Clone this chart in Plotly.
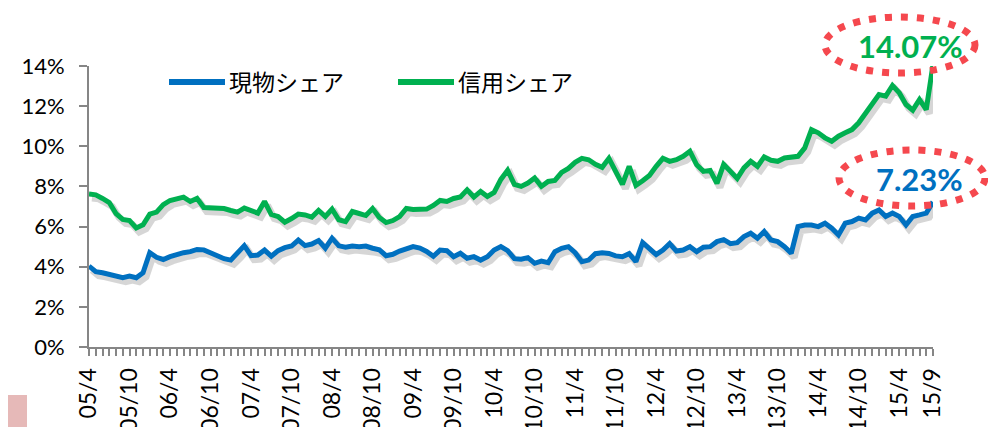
import plotly.graph_objects as go

# ---------------- data ----------------
series_names = ["現物シェア", "信用シェア"]

cash_share = [
    4.03, 3.75, 3.70, 3.62, 3.55, 3.45, 3.53, 3.45, 3.70, 4.70,
    4.47, 4.36, 4.50, 4.62, 4.70, 4.75, 4.86, 4.84, 4.70, 4.55,
    4.40, 4.33, 4.65, 5.05, 4.55, 4.58, 4.83, 4.52, 4.80, 4.95,
    5.03, 5.33, 5.05, 5.13, 5.30, 4.92, 5.42, 5.04, 4.97, 5.03,
    5.00, 5.03, 4.92, 4.84, 4.55, 4.62, 4.78, 4.88, 5.00, 4.93,
    4.76, 4.52, 4.83, 4.80, 4.50, 4.67, 4.42, 4.50, 4.33, 4.50,
    4.83, 5.00, 4.80, 4.40, 4.37, 4.45, 4.17, 4.28, 4.20, 4.75,
    4.92, 5.00, 4.70, 4.25, 4.33, 4.65, 4.70, 4.66, 4.54, 4.50,
    4.65, 4.25, 5.20, 4.90, 4.60, 4.83, 5.15, 4.78, 4.83, 5.00,
    4.75, 4.97, 5.00, 5.25, 5.35, 5.15, 5.20, 5.50, 5.67, 5.42,
    5.75, 5.33, 5.25, 5.00, 4.67, 6.00, 6.08, 6.08, 6.00, 6.17,
    5.92, 5.58, 6.17, 6.25, 6.42, 6.33, 6.67, 6.83, 6.50, 6.67,
    6.50, 6.08, 6.50, 6.58, 6.67, 7.23,
]

credit_share = [
    7.62, 7.58, 7.40, 7.20, 6.65, 6.36, 6.30, 5.93, 6.09, 6.62,
    6.72, 7.09, 7.30, 7.37, 7.47, 7.25, 7.40, 6.95, 6.93, 6.97,
    6.90, 6.80, 6.72, 6.92, 6.80, 6.67, 7.25, 6.60, 6.50, 6.22,
    6.40, 6.62, 6.58, 6.47, 6.80, 6.50, 6.87, 6.34, 6.25, 6.75,
    6.65, 6.55, 6.90, 6.45, 6.20, 6.30, 6.50, 6.90, 6.85, 6.85,
    6.87, 7.05, 7.30, 7.25, 7.40, 7.48, 7.83, 7.47, 7.75, 7.50,
    7.70, 8.35, 8.80, 8.10, 8.00, 8.17, 8.42, 8.00, 8.25, 8.30,
    8.70, 8.90, 9.20, 9.40, 9.33, 9.10, 8.95, 9.40, 8.70, 8.10,
    9.00, 8.05, 8.28, 8.55, 9.00, 9.40, 9.25, 9.33, 9.50, 9.75,
    9.08, 8.75, 8.80, 8.15, 9.10, 8.75, 8.40, 8.92, 9.25, 9.00,
    9.47, 9.30, 9.25, 9.42, 9.47, 9.50, 9.92, 10.83, 10.67, 10.42,
    10.25, 10.50, 10.67, 10.83, 11.17, 11.67, 12.17, 12.58, 12.50, 13.03,
    12.67, 12.08, 11.80, 12.33, 11.83, 14.07,
]

# monthly categories 2005/4 .. 2015/9
months = []
for yy in range(2005, 2016):
    for mm in range(1, 13):
        if (yy, mm) < (2005, 4) or (yy, mm) > (2015, 9):
            continue
        months.append(f"{yy % 100:02d}/{mm}")

tick_labels = ["05/4", "05/10", "06/4", "06/10", "07/4", "07/10", "08/4", "08/10",
               "09/4", "09/10", "10/4", "10/10", "11/4", "11/10", "12/4", "12/10",
               "13/4", "13/10", "14/4", "14/10", "15/4", "15/9"]

y_ticks = [0, 2, 4, 6, 8, 10, 12, 14]

# ---------------- layout helpers ----------------
W, H = 996, 427
OFF = 8  # the page body adds an 8px margin around the figure
L, T = 89 - OFF, 66 - OFF
PW, PH = 844, 281
R, B = W - L - PW, H - T - PH
FONT = "Lato, 'Noto Sans CJK JP', sans-serif"
JFONT = "'Noto Sans CJK JP', sans-serif"
BLUE = "#0070C0"
GREEN = "#00B050"
AXIS = "#868686"
TXT = "#000000"
RED_DOT = "rgb(245,72,78)"


def px(x):
    """screen pixel x -> paper fraction"""
    return (x - OFF - L) / PW


def py(y):
    """screen pixel y -> paper fraction"""
    return 1 - (y - OFF - T) / PH


idx = list(range(len(months)))
tickvals = [months.index(t) for t in tick_labels]
n_last = len(months) - 1
x_range = [0, n_last]
y_range = [y_ticks[0], y_ticks[-1]]

# shadow offsets (pixels)
sdx, sdy = 3, 4
ppx = PW / (x_range[1] - x_range[0])
ppy = PH / (y_range[1] - y_range[0])

fig = go.Figure()

series = [(series_names[0], cash_share, BLUE), (series_names[1], credit_share, GREEN)]

# shadows on hidden first axes
for name, vals, col in series:
    fig.add_trace(go.Scatter(
        x=idx, y=vals, xaxis="x", yaxis="y", mode="lines",
        line=dict(color="rgba(0,0,0,0.16)", width=7),
        hoverinfo="skip", showlegend=False,
    ))

# main lines
for name, vals, col in series:
    fig.add_trace(go.Scatter(
        x=idx, y=vals, xaxis="x2", yaxis="y2", mode="lines", name=name,
        line=dict(color=col, width=5), customdata=months,
        hovertemplate="%{customdata}: %{y:.2f}%<extra>" + name + "</extra>",
        showlegend=False,
    ))

shapes = []
annotations = []

# custom legend
legend_items = [(series_names[0], BLUE, 169, 225), (series_names[1], GREEN, 398, 454)]
for name, col, x0, x1 in legend_items:
    shapes.append(dict(type="line", xref="paper", yref="paper",
                       x0=px(x0), x1=px(x1), y0=py(82), y1=py(82),
                       line=dict(color=col, width=6)))
    annotations.append(dict(xref="paper", yref="paper", x=px(x1 + 2), y=py(81),
                            xanchor="left", yanchor="middle", text=name, showarrow=False,
                            font=dict(family=JFONT, size=23, color=TXT)))

# highlighted last values with dotted ellipses
annotations.append(dict(xref="paper", yref="paper", x=px(910), y=py(46),
                        xanchor="center", yanchor="middle",
                        text=f"{credit_share[-1]:.2f}%", showarrow=False,
                        font=dict(family=FONT, size=31, color=GREEN, weight="bold")))
annotations.append(dict(xref="paper", yref="paper", x=px(919), y=py(179),
                        xanchor="center", yanchor="middle",
                        text=f"{cash_share[-1]:.2f}%", showarrow=False,
                        font=dict(family=FONT, size=31, color=BLUE, weight="bold")))
for (x0, x1, y0, y1) in [(825, 975, 17, 73), (839, 985, 150, 206)]:
    shapes.append(dict(type="circle", xref="paper", yref="paper",
                       x0=px(x0), x1=px(x1), y0=py(y1), y1=py(y0),
                       line=dict(color=RED_DOT, width=7, dash="7px,9px")))

# pink square at bottom-left corner
shapes.append(dict(type="rect", xref="paper", yref="paper",
                   x0=px(0), x1=px(27), y0=py(427), y1=py(395),
                   fillcolor="#E6B9B8", line=dict(width=0), layer="below"))

fig.update_layout(
    width=W, height=H,
    margin=dict(l=L, r=R, t=T, b=B, pad=0, autoexpand=False),
    paper_bgcolor="white", plot_bgcolor="rgba(0,0,0,0)",
    font=dict(family=FONT, size=21, color=TXT),
    showlegend=False,
    shapes=shapes, annotations=annotations,
    xaxis=dict(domain=[0, 1], anchor="y", visible=False, fixedrange=True,
               automargin=False,
               range=[x_range[0] - sdx / ppx, x_range[1] - sdx / ppx]),
    yaxis=dict(domain=[0, 1], anchor="x", visible=False, fixedrange=True,
               automargin=False,
               range=[y_range[0] + sdy / ppy, y_range[1] + sdy / ppy]),
    xaxis2=dict(domain=[0, 1], anchor="y2", range=x_range, automargin=False,
                showline=True, linecolor=AXIS, linewidth=2,
                showgrid=False, zeroline=False,
                tickmode="array", tickvals=tickvals, ticktext=tick_labels,
                ticks="outside", ticklen=7, tickwidth=1.5, tickcolor=AXIS,
                tickangle=-90, ticklabelstandoff=3,
                tickfont=dict(family=FONT, size=23, color=TXT),
                minor=dict(dtick=1, tick0=0, ticks="outside", ticklen=7,
                           tickwidth=1.5, tickcolor=AXIS, showgrid=False)),
    yaxis2=dict(domain=[0, 1], anchor="x2", range=y_range, automargin=False,
                showline=True, linecolor=AXIS, linewidth=2,
                showgrid=False, zeroline=False,
                tickmode="array", tickvals=y_ticks,
                ticktext=[f"{v}%" for v in y_ticks],
                ticks="outside", ticklen=8, tickwidth=1.5, tickcolor=AXIS,
                ticklabelstandoff=10,
                tickfont=dict(family=FONT, size=22, color=TXT)),
)

fig.write_html("out.html")
